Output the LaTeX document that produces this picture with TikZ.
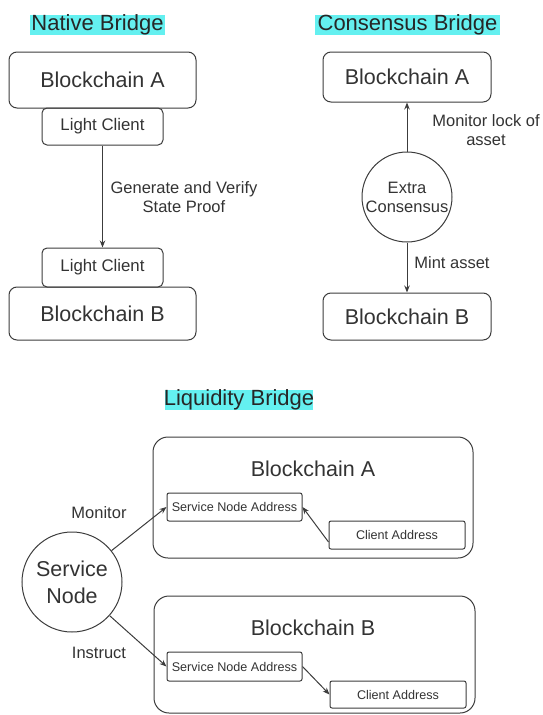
\documentclass[tikz,border=0pt]{standalone}
\usepackage{fontspec}
\setmainfont{Liberation Sans}
\usetikzlibrary{arrows.meta,calc}
\definecolor{hl}{RGB}{100,240,240}
\definecolor{ink}{RGB}{51,51,51}
\definecolor{edge}{RGB}{60,60,60}
\begin{document}
\begin{tikzpicture}[x=1pt,y=-1pt,
  every node/.style={text=ink},
  bigtext/.style={font=\fontsize{21.5}{24}\selectfont},
  lbl/.style={font=\fontsize{16.5}{19}\selectfont, align=center},
  smalltext/.style={font=\fontsize{12.6}{15}\selectfont},
  title/.style={font=\fontsize{22}{25}\selectfont, text=black!85},
  chainbox/.style={draw=edge, line width=1pt, rounded corners=8pt, inner sep=0pt},
  lcbox/.style={draw=edge, line width=1pt, rounded corners=5pt, inner sep=0pt, font=\fontsize{16.8}{19}\selectfont},
  addrbox/.style={draw=edge, line width=1pt, rounded corners=2pt, inner sep=0pt, smalltext},
  bigbox/.style={draw=edge, line width=1pt, rounded corners=15pt, inner sep=0pt},
  roundnode/.style={draw=edge, line width=1pt, circle, inner sep=0pt, align=center},
  arr/.style={draw=edge, line width=1pt, -{Stealth[length=7pt,width=5.5pt]}}
]
\useasboundingbox (0,0) rectangle (543,715);
\clip (0,0) rectangle (543,715);

% ---------- titles ----------
\fill[hl] (30,15) rectangle (165,35);
\node[title] (t1) at (97.5,25) {Native Bridge};
\fill[hl] (315,15) rectangle (500,35);
\node[title] (t2) at (407.5,25) {Consensus Bridge};
\fill[hl] (165,390) rectangle (313,410);
\node[title] (t3) at (239,400) {Liquidity Bridge};

% ---------- Native bridge ----------
\node[chainbox, bigtext, minimum width=187pt, minimum height=56pt] (nA) at (102.5,80) {Blockchain A};
\node[lcbox, minimum width=121pt, minimum height=37pt] (lc1) at (102.5,126.5) {Light Client};
\node[lcbox, minimum width=121pt, minimum height=39pt] (lc2) at (102.5,267.5) {Light Client};
\node[chainbox, bigtext, minimum width=187pt, minimum height=53pt] (nB) at (102.5,313.5) {Blockchain B};
\draw[arr] (lc1.south) -- (lc2.north);
\node[lbl] (nlab) at (184,197) {Generate and Verify\\State Proof};

% ---------- Consensus bridge ----------
\node[chainbox, bigtext, minimum width=168pt, minimum height=50pt] (cA) at (407,77) {Blockchain A};
\node[chainbox, bigtext, minimum width=168pt, minimum height=47pt] (cB) at (407,316.5) {Blockchain B};
\node[roundnode, minimum size=90pt, lbl] (ec) at (407,197) {Extra\\Consensus};
\draw[arr] (ec.north) -- (cA.south);
\draw[arr] (ec.south) -- (cB.north);
\node[lbl] (clab1) at (486,130) {Monitor lock of\\asset};
\node[lbl] (clab2) at (452,263) {Mint asset};

% ---------- Liquidity bridge ----------
\node[bigbox, minimum width=320pt, minimum height=121pt] (bigA) at (313,497.5) {};
\node[bigtext] (bigAt) at (313,469) {Blockchain A};
\node[addrbox, minimum width=135pt, minimum height=28pt] (snaA) at (234.5,507) {Service Node Address};
\node[addrbox, minimum width=136pt, minimum height=28pt] (caA) at (397,535) {Client Address};

\node[bigbox, minimum width=321pt, minimum height=117pt] (bigB) at (314.5,654.5) {};
\node[bigtext] (bigBt) at (313,628) {Blockchain B};
\node[addrbox, minimum width=135pt, minimum height=29pt] (snaB) at (234.5,666.5) {Service Node Address};
\node[addrbox, minimum width=136pt, minimum height=27pt] (caB) at (398,694.5) {Client Address};

\node[roundnode, minimum size=100pt, bigtext, font=\fontsize{21.5}{27}\selectfont] (sn) at (72,582) {Service\\Node};

\draw[arr] (sn) -- (snaA.west);
\draw[arr] (sn) -- (snaB.west);
\draw[arr] ($(caA.west)+(0,7)$) -- (snaA.east);
\draw[arr] (snaB.east) -- (caB.west);
\node[lbl] (mon) at (99,513) {Monitor};
\node[lbl] (ins) at (99,653) {Instruct};
\end{tikzpicture}
\end{document}
